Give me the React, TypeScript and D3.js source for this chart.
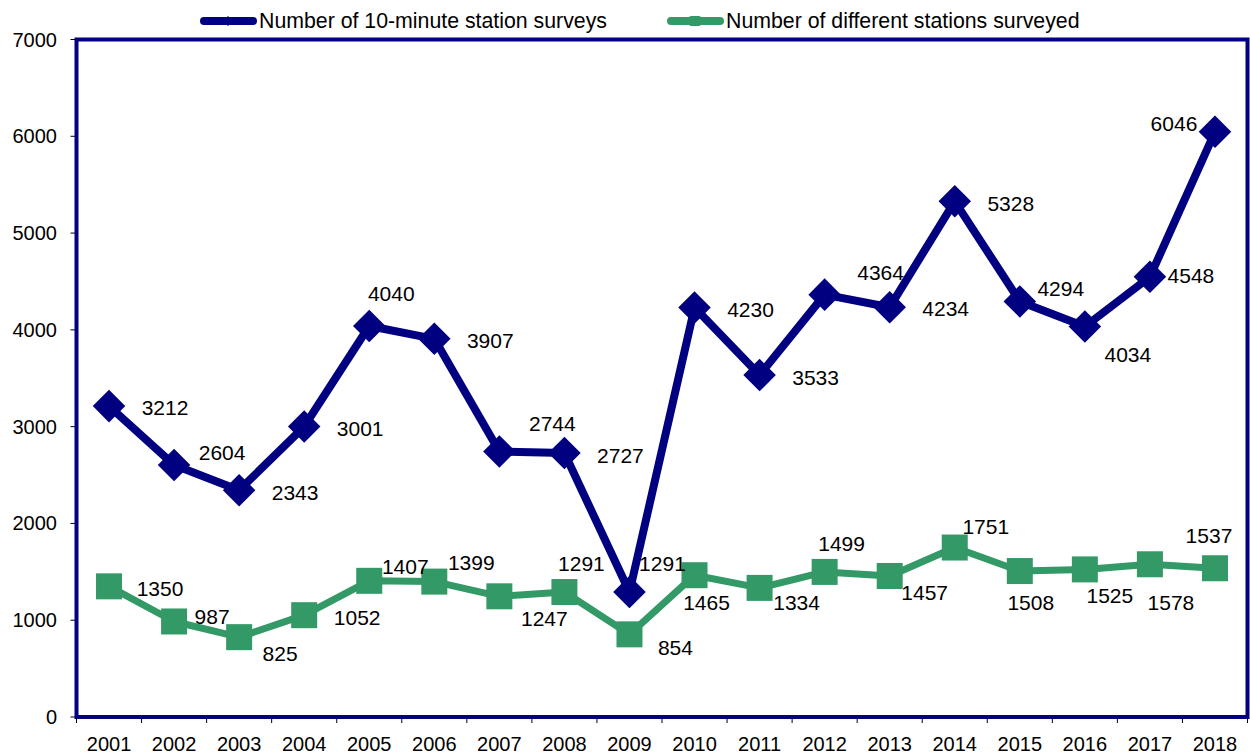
import * as React from "react";
import * as d3 from "d3";

const years = ["2001", "2002", "2003", "2004", "2005", "2006", "2007", "2008", "2009",
    "2010", "2011", "2012", "2013", "2014", "2015", "2016", "2017", "2018"];
const surveys = [3212, 2604, 2343, 3001, 4040, 3907, 2744, 2727, 1291,
    4230, 3533, 4364, 4234, 5328, 4294, 4034, 4548, 6046];
const stations = [1350, 987, 825, 1052, 1407, 1399, 1247, 1291, 854,
    1465, 1334, 1499, 1457, 1751, 1508, 1525, 1578, 1537];
const yTicks = [0, 1000, 2000, 3000, 4000, 5000, 6000, 7000];
const seriesNames = ["Number of 10-minute station surveys", "Number of different stations surveyed"];

// hand placed data labels (dx, dy from the marker), like the original chart
const surveyLabelOffsets = [[56, 1], [48, -12], [56, 2], [56, 2], [22, -32], [56, 2], [53, -28], [56, 2], [33, -29],
    [56, 2], [56, 2], [56, -22], [56, 1], [56, 2], [41, -13], [43, 28], [41, -1], [-41, -8]];
const stationLabelOffsets = [[51, 2], [38, -5], [41, 16], [53, 2], [36, -14], [37, -19], [45, 22], [17, -29], [46, 13],
    [12, 27], [37, 15], [17, -28], [35, 17], [31, -21], [11, 31], [25, 26], [21, 38], [-6, -33]];

const NAVY = "#000080";
const GREEN = "#339966";

function App() {
    const rootRef = React.useRef<SVGSVGElement | null>(null);

    React.useEffect(() => {
        document.body.style.margin = "0";
        const svg = d3.select(rootRef.current);
        svg.selectAll("*").remove();

        const left = 76.5, right = 1247.5, top = 39.5, bottom = 717;
        const font = "Arial, 'Liberation Sans', sans-serif";

        const xScale = d3.scaleBand().domain(years).range([left, right]);
        const xc = (yr: string) => (xScale(yr) as number) + xScale.bandwidth() / 2;
        const yScale = d3.scaleLinear().domain([0, 7000]).range([bottom, top]);

        // y axis ticks + labels
        const yAxis = svg.append("g");
        yAxis.selectAll("line").data(yTicks).enter().append("line")
            .attr("x1", left - 6).attr("x2", left)
            .attr("y1", d => yScale(d)).attr("y2", d => yScale(d))
            .style("stroke", "#000").style("stroke-width", 1);
        yAxis.selectAll("text").data(yTicks).enter().append("text")
            .attr("x", 57).attr("y", d => yScale(d))
            .attr("text-anchor", "end").attr("dominant-baseline", "central")
            .style("font-family", font).style("font-size", "20px")
            .text(d => d);

        // x axis ticks at band boundaries
        const xAxis = svg.append("g");
        const boundaries = years.map(y => xScale(y) as number).concat([right]);
        xAxis.selectAll("line").data(boundaries).enter().append("line")
            .attr("x1", d => d).attr("x2", d => d)
            .attr("y1", bottom).attr("y2", bottom + 6)
            .style("stroke", "#000").style("stroke-width", 1);
        xAxis.selectAll("text").data(years).enter().append("text")
            .attr("x", d => xc(d)).attr("y", 744)
            .attr("text-anchor", "middle").attr("dominant-baseline", "central")
            .style("font-family", font).style("font-size", "20px")
            .text(d => d);

        // plot frame
        svg.append("rect")
            .attr("x", left).attr("y", top)
            .attr("width", right - left).attr("height", bottom - top)
            .style("fill", "none").style("stroke", NAVY).style("stroke-width", 4);

        const line = d3.line<number>()
            .x((d, i) => xc(years[i]))
            .y(d => yScale(d));

        // surveys series
        svg.append("path").attr("d", line(surveys))
            .style("fill", "none").style("stroke", NAVY).style("stroke-width", 8)
            .style("stroke-linejoin", "round");
        const diamond = d3.symbol().type(d3.symbolSquare).size(23 * 23);
        svg.append("g").selectAll("path").data(surveys).enter().append("path")
            .attr("d", diamond)
            .attr("transform", (d, i) => `translate(${xc(years[i])},${yScale(d)}) rotate(45)`)
            .style("fill", NAVY);

        // stations series
        svg.append("path").attr("d", line(stations))
            .style("fill", "none").style("stroke", GREEN).style("stroke-width", 7)
            .style("stroke-linejoin", "round");
        svg.append("g").selectAll("rect").data(stations).enter().append("rect")
            .attr("x", (d, i) => xc(years[i]) - 13).attr("y", d => yScale(d) - 13)
            .attr("width", 26).attr("height", 26)
            .style("fill", GREEN);

        // data labels
        const labels = svg.append("g")
            .style("font-family", font).style("font-size", "21px");
        labels.selectAll("text.s").data(surveys).enter().append("text")
            .attr("x", (d, i) => xc(years[i]) + surveyLabelOffsets[i][0])
            .attr("y", (d, i) => yScale(d) + surveyLabelOffsets[i][1])
            .attr("text-anchor", "middle").attr("dominant-baseline", "central")
            .text(d => d);
        labels.selectAll("text.t").data(stations).enter().append("text")
            .attr("x", (d, i) => xc(years[i]) + stationLabelOffsets[i][0])
            .attr("y", (d, i) => yScale(d) + stationLabelOffsets[i][1])
            .attr("text-anchor", "middle").attr("dominant-baseline", "central")
            .text(d => d);

        // legend
        const legendItems = [
            {name: seriesNames[0], color: NAVY, x: 200, shape: "diamond"},
            {name: seriesNames[1], color: GREEN, x: 667, shape: "square"}
        ];
        const legend = svg.append("g");
        const item = legend.selectAll("g").data(legendItems).enter().append("g")
            .attr("transform", d => `translate(${d.x},21)`);
        item.append("line")
            .attr("x1", 4).attr("x2", 53).attr("y1", 0).attr("y2", 0)
            .style("stroke", d => d.color).style("stroke-width", 8)
            .style("stroke-linecap", "round");
        item.filter(d => d.shape === "square").append("rect")
            .attr("x", 22).attr("y", -5).attr("width", 12).attr("height", 10)
            .attr("rx", 2)
            .style("fill", d => d.color);
        item.filter(d => d.shape === "diamond").append("path")
            .attr("d", d3.symbol().type(d3.symbolSquare).size(50))
            .attr("transform", "translate(28,0) rotate(45)")
            .style("fill", d => d.color);
        item.append("text")
            .attr("x", 59).attr("y", 0)
            .attr("dominant-baseline", "central")
            .style("font-family", font).style("font-size", "21.3px")
            .text(d => d.name);
    }, []);

    return <svg ref={rootRef} width={1250} height={754} style={{display: "block"}}/>;
}

export default App;
